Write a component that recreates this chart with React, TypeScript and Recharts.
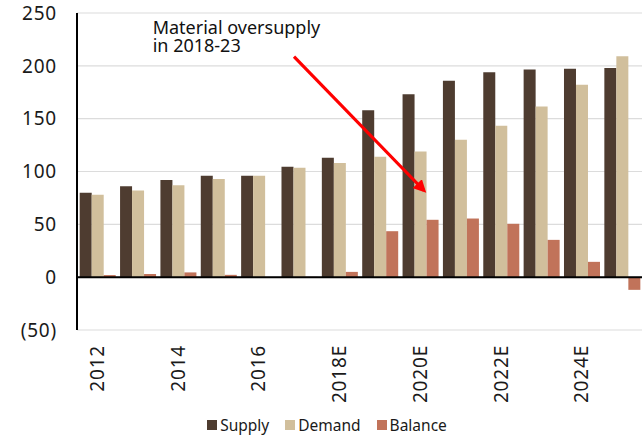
import React from 'react';
import { BarChart, Bar, XAxis, YAxis, CartesianGrid, ReferenceLine, Legend } from 'recharts';

const years = ['2012', '2013', '2014', '2015', '2016', '2017', '2018E', '2019E', '2020E', '2021E', '2022E', '2023E', '2024E', '2025E'];
const supply = [80, 86, 92, 96, 96, 104.5, 113, 158, 173, 186, 194, 196.5, 197.3, 198];
const demand = [78, 82, 87, 93, 96, 103.5, 108, 114, 119, 130, 143.3, 161.6, 182, 209];
const balance = [2, 3, 4.5, 2.2, 0, 0.3, 5, 43.5, 54.3, 55.5, 50.5, 35.3, 14.5, -12];
const yTicks = [-50, 0, 50, 100, 150, 200, 250];
const shownYears = ['2012', '2014', '2016', '2018E', '2020E', '2022E', '2024E'];
const annotationLines = ['Material oversupply', 'in 2018-23'];

const seriesNames = ['Supply', 'Demand', 'Balance'];
const colors = ['#4E3C30', '#D1BF9C', '#C1735A'];

const data = years.map((y, i) => ({ year: y, Supply: supply[i], Demand: demand[i], Balance: balance[i] }));

const FONT = '"Noto Sans", sans-serif';

const XTick = (props: any) => {
  const { x, y, payload } = props;
  if (!shownYears.includes(payload.value)) return null;
  return (
    <g transform={`translate(${x},${y})`}>
      <text transform="rotate(-90)" textAnchor="end" dy="0.36em" fontSize={19} letterSpacing={0.8} fill="#1a1a1a" fontFamily={FONT}>
        {payload.value}
      </text>
    </g>
  );
};

const LegendContent = () => (
  <div style={{ display: 'flex', justifyContent: 'center', alignItems: 'center', height: 26, paddingTop: 4, paddingLeft: 12, boxSizing: 'border-box', fontFamily: FONT, fontSize: 15.5, color: '#1a1a1a' }}>
    {seriesNames.map((n, i) => (
      <div key={n} style={{ display: 'flex', alignItems: 'center', marginRight: i < 2 ? 16 : 0 }}>
        <div style={{ width: 10, height: 10, background: colors[i], marginRight: 3 }} />
        <span>{n}</span>
      </div>
    ))}
  </div>
);

export default function App() {
  return (
    <div style={{ position: 'absolute', left: 0, top: 0, width: 643, height: 436, background: '#fff' }}>
      <BarChart width={643} height={436} data={data} margin={{ top: 13, right: 1, bottom: 0, left: 0 }} barCategoryGap="6.7%" barGap={0}>
        <CartesianGrid vertical={false} stroke="#dcdcdc" strokeWidth={1.2} />
        <YAxis
          type="number"
          domain={[-50, 250]}
          ticks={yTicks}
          width={77}
          tickSize={0}
          tickMargin={20}
          axisLine={{ stroke: '#000', strokeWidth: 2 }}
          tickLine={false}
          tickFormatter={(v: number) => (v < 0 ? `(${Math.abs(v)})` : `${v}`)}
          tick={{ fontSize: 19, fill: '#1a1a1a', fontFamily: FONT, letterSpacing: 0.8 }}
          interval={0}
        />
        <XAxis dataKey="year" height={80} interval={0} tickSize={0} tickMargin={15} axisLine={false} tickLine={false} tick={<XTick />} />
        {seriesNames.map((n, i) => (
          <Bar key={n} dataKey={n} fill={colors[i]} isAnimationActive={false} />
        ))}
        <ReferenceLine y={0} stroke="#000" strokeWidth={2} />
        <Legend verticalAlign="bottom" content={<LegendContent />} />
      </BarChart>
      <svg width={643} height={436} style={{ position: 'absolute', left: 0, top: 0, pointerEvents: 'none' }}>
        <defs>
          <marker id="arrowhead" markerWidth="4" markerHeight="4" refX="3" refY="2" orient="auto" markerUnits="strokeWidth">
            <path d="M0,0 L4,2 L0,4 z" fill="#FF0000" />
          </marker>
        </defs>
        <line x1={294} y1={56.7} x2={424} y2={190.5} stroke="#FF0000" strokeWidth={3.2} markerEnd="url(#arrowhead)" />
      </svg>
      <div
        style={{
          position: 'absolute',
          left: 152.7,
          top: 17.5,
          fontFamily: FONT,
          fontSize: 18,
          lineHeight: '18.3px',
          color: '#111',
          whiteSpace: 'nowrap',
          pointerEvents: 'none',
        }}
      >
        {annotationLines[0]}
        <br />
        {annotationLines[1]}
      </div>
    </div>
  );
}
